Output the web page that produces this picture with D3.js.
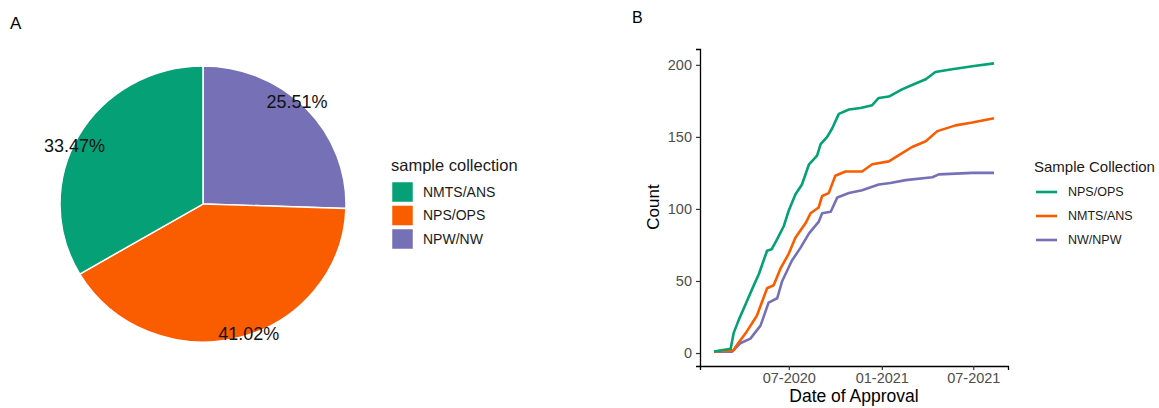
<!DOCTYPE html>
<html>
<head>
<meta charset="utf-8">
<script src="https://cdn.jsdelivr.net/npm/d3@7"></script>
<style>
  body { margin: 0; background: #fff; }
  text { font-family: "Liberation Sans", Arial, sans-serif; }
</style>
</head>
<body>
<div id="chart"></div>
<script>
// panel A data (share of EUAs by sample collection)
var pieCategories = ['NMTS/ANS', 'NPS/OPS', 'NPW/NW'];
var pieValues = [33.47, 41.02, 25.51];
var pieColors = ['#06a077', '#fa5d00', '#7670b6'];

// panel B data: cumulative count by date of approval
var lineCategories = ['NPS/OPS', 'NMTS/ANS', 'NW/NPW'];
var lineColors = ['#06a077', '#fa5d00', '#7670b6'];
var xTickDates = ['2020-07-01', '2021-01-01', '2021-07-01'];
var yTicks = [0, 50, 100, 150, 200];

var npsDates = ['2020-02-04','2020-03-08','2020-03-14','2020-03-24','2020-04-08','2020-04-19','2020-05-03','2020-05-19','2020-05-28','2020-06-08','2020-06-21','2020-07-01','2020-07-14','2020-07-27','2020-08-10','2020-08-26','2020-09-02','2020-09-15','2020-09-25','2020-10-08','2020-10-28','2020-11-20','2020-12-13','2020-12-26','2021-01-15','2021-02-10','2021-03-02','2021-03-29','2021-04-17','2021-05-20','2021-06-29','2021-08-11'];
var npsCounts = [1,3,14,23,35,44,55,71,72,79,88,99,110,117,131,137,145,150,156,166,169,170,172,177,178,183,186,190,195,197,199,201];

var nmtsDates = ['2020-02-04','2020-03-14','2020-03-17','2020-04-09','2020-04-29','2020-05-19','2020-06-01','2020-06-15','2020-07-01','2020-07-14','2020-08-03','2020-08-13','2020-08-29','2020-09-05','2020-09-18','2020-10-01','2020-10-21','2020-11-23','2020-12-13','2021-01-15','2021-02-07','2021-03-02','2021-03-29','2021-04-21','2021-05-27','2021-06-29','2021-08-11'];
var nmtsCounts = [1,2,4,15,26,45,47,59,69,80,90,97,101,109,111,123,126,126,131,133,138,143,147,154,158,160,163];

var nwDates = ['2020-02-04','2020-03-11','2020-03-28','2020-04-16','2020-05-06','2020-05-22','2020-06-08','2020-06-18','2020-07-07','2020-07-24','2020-08-10','2020-08-29','2020-09-05','2020-09-22','2020-10-05','2020-10-28','2020-11-23','2020-12-26','2021-01-18','2021-02-17','2021-04-11','2021-04-24','2021-06-29','2021-08-11'];
var nwCounts = [1,1,7,10,19,35,38,50,64,73,83,91,97,98,108,111,113,117,118,120,122,124,125,125];

var W = 1159, H = 408;
var svg = d3.select('#chart').append('svg')
    .attr('width', W)
    .attr('height', H);

// panel tags
svg.append('text').attr('x', 10).attr('y', 29).attr('font-size', '17px').text('A');
svg.append('text').attr('x', 632).attr('y', 23).attr('font-size', '16px').text('B');

// ---------- panel A: pie ----------
// source image is a bit squashed vertically, so pie is drawn slightly elliptical
var cx = 203, cy = 204, R = 143, ySquash = 138 / 143;
var gA = svg.append('g').attr('transform', 'translate(' + cx + ',' + cy + ')');
var gPie = gA.append('g').attr('transform', 'scale(1,' + ySquash + ')');

// slices go clockwise from 12 o'clock in reverse legend order
var order = [2, 1, 0];
var pie = d3.pie().sort(null).value(function(i) { return pieValues[i]; });
var arcs = pie(order);
var arc = d3.arc().innerRadius(0).outerRadius(R);

gPie.selectAll('path.slice')
    .data(arcs)
    .enter().append('path')
    .attr('class', 'slice')
    .attr('d', arc)
    .attr('fill', function(d) { return pieColors[d.data]; })
    .attr('stroke', '#fff')
    .attr('stroke-width', 1.5);

// labels sit a touch counter-clockwise of mid angle near the rim
var labR = 142, shift = 4.5 * Math.PI / 180;
gA.selectAll('text.lab')
    .data(arcs)
    .enter().append('text')
    .attr('class', 'lab')
    .attr('x', function(d) { return labR * Math.sin((d.startAngle + d.endAngle) / 2 - shift); })
    .attr('y', function(d) { return -labR * ySquash * Math.cos((d.startAngle + d.endAngle) / 2 - shift); })
    .attr('dy', '0.35em')
    .attr('text-anchor', 'middle')
    .attr('font-size', '18px')
    .attr('fill', '#111')
    .text(function(d) { return pieValues[d.data].toFixed(2) + '%'; });

// legend A
var legA = svg.append('g').attr('transform', 'translate(391,0)');
legA.append('text').attr('x', 0).attr('y', 171).attr('font-size', '16.5px').attr('fill', '#1a1a1a')
    .text('sample collection');
var keyA = legA.selectAll('g.key')
    .data(pieCategories)
    .enter().append('g')
    .attr('class', 'key')
    .attr('transform', function(d, i) { return 'translate(1,' + (182 + i * 23.5) + ')'; });
keyA.append('rect').attr('width', 21).attr('height', 20)
    .attr('fill', function(d, i) { return pieColors[i]; })
    .attr('stroke', '#fff').attr('stroke-width', 0.5);
keyA.append('text').attr('x', 31).attr('y', 10).attr('dy', '0.35em')
    .attr('font-size', '14px').attr('fill', '#1a1a1a')
    .text(function(d) { return d; });

// ---------- panel B: cumulative lines ----------
var parse = d3.timeParse('%Y-%m-%d');
var series = [
    { name: lineCategories[0], color: lineColors[0], pts: npsDates.map(function(d, i) { return { date: parse(d), n: npsCounts[i] }; }) },
    { name: lineCategories[1], color: lineColors[1], pts: nmtsDates.map(function(d, i) { return { date: parse(d), n: nmtsCounts[i] }; }) },
    { name: lineCategories[2], color: lineColors[2], pts: nwDates.map(function(d, i) { return { date: parse(d), n: nwCounts[i] }; }) }
];

var all = d3.merge(series.map(function(s) { return s.pts; }));
var xExt = d3.extent(all, function(d) { return d.date; });
var pad = (xExt[1] - xExt[0]) * 0.05;  // ggplot style expansion
var x = d3.scaleTime()
    .domain([new Date(+xExt[0] - pad), new Date(+xExt[1] + pad)])
    .range([700, 1008]);

var yExt = d3.extent(all, function(d) { return d.n; });
var yPad = (yExt[1] - yExt[0]) * 0.05;
var y = d3.scaleLinear()
    .domain([yExt[0] - yPad, yExt[1] + yPad])
    .range([366, 49]);

var xAxis = d3.axisBottom(x)
    .tickValues(xTickDates.map(parse))
    .tickFormat(d3.timeFormat('%m-%Y'))
    .tickSize(4).tickPadding(3);
var yAxis = d3.axisLeft(y)
    .tickValues(yTicks)
    .tickSize(4).tickPadding(4);

var gx = svg.append('g').attr('transform', 'translate(0,366)').call(xAxis);
var gy = svg.append('g').attr('transform', 'translate(700,0)').call(yAxis);
[gx, gy].forEach(function(g) {
    g.select('.domain').attr('stroke', '#000').attr('stroke-width', 1.3);
    g.selectAll('.tick line').attr('stroke', '#333').attr('stroke-width', 1.2);
    g.selectAll('.tick text').attr('fill', '#4d4d4d').attr('font-size', '14.5px')
        .attr('font-family', '"Liberation Sans", Arial, sans-serif');
});

var line = d3.line()
    .x(function(d) { return x(d.date); })
    .y(function(d) { return y(d.n); });

// draw bottom-most first so green sits on top
svg.selectAll('path.series')
    .data(series.slice().reverse())
    .enter().append('path')
    .attr('class', 'series')
    .attr('d', function(s) { return line(s.pts); })
    .attr('fill', 'none')
    .attr('stroke', function(s) { return s.color; })
    .attr('stroke-width', 2.6)
    .attr('stroke-linejoin', 'round');

// axis titles
svg.append('text').attr('x', 854).attr('y', 402).attr('text-anchor', 'middle')
    .attr('font-size', '17.5px').attr('fill', '#000').text('Date of Approval');
svg.append('text').attr('transform', 'translate(659,207) rotate(-90)').attr('text-anchor', 'middle')
    .attr('font-size', '17px').attr('fill', '#000').text('Count');

// legend B
var legB = svg.append('g').attr('transform', 'translate(1034,0)');
legB.append('text').attr('x', 0).attr('y', 172).attr('font-size', '15px').attr('fill', '#1a1a1a')
    .text('Sample Collection');
var keyB = legB.selectAll('g.key')
    .data(series)
    .enter().append('g')
    .attr('class', 'key')
    .attr('transform', function(d, i) { return 'translate(0,' + (192 + i * 24) + ')'; });
keyB.append('line').attr('x1', 2).attr('x2', 23).attr('y1', 0).attr('y2', 0)
    .attr('stroke', function(d) { return d.color; }).attr('stroke-width', 2.6);
keyB.append('text').attr('x', 34).attr('y', 0).attr('dy', '0.35em')
    .attr('font-size', '12.5px').attr('fill', '#1a1a1a')
    .text(function(d) { return d.name; });
</script>
</body>
</html>
